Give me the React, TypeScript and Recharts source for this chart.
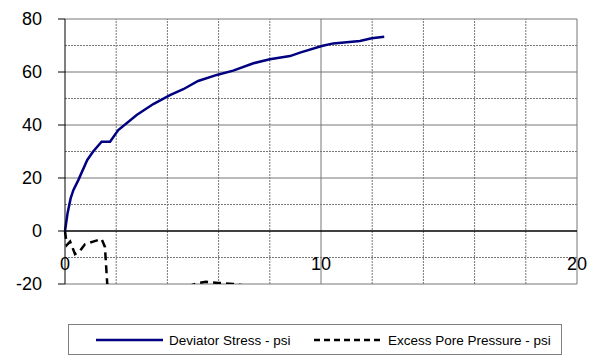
import { LineChart, Line, XAxis, YAxis, ReferenceLine } from 'recharts';

// deviator stress curve (axial strain %, psi)
const strainStress = [0, 0.1, 0.22, 0.33, 0.52, 0.87, 1.1, 1.43, 1.76, 2.08, 2.8, 3.45, 4.1, 4.62, 5.2, 5.93, 6.57, 7.36, 8.0, 8.79, 9.18, 10.03, 10.48, 11.52, 11.98, 12.47];
const deviatorStress = [0, 6.7, 12.3, 15.5, 19.2, 26.8, 30.0, 33.7, 33.7, 38.1, 43.8, 47.9, 51.3, 53.5, 56.6, 58.9, 60.5, 63.3, 64.8, 66.0, 67.3, 69.8, 70.8, 71.7, 72.7, 73.3];

// excess pore pressure curve (mostly below the visible range after ~1.6%)
const strainPore = [0, 0.07, 0.2, 0.39, 0.59, 0.78, 1.1, 1.43, 1.56, 1.65, 1.9, 3.0, 4.2, 4.75, 5.27, 5.5, 6.0, 6.57, 7.35, 8.0, 9.0];
const porePressure = [0, -5.3, -4.0, -8.7, -7.4, -5.0, -4.0, -3.0, -6.0, -20.0, -32, -36, -28, -21.0, -19.5, -19.2, -19.6, -20.0, -21.0, -26, -31];

const yTicks = [-20, 0, 20, 40, 60, 80];
const xTicks = [0, 10, 20];
const majorY = [-20, 20, 40, 60, 80];
const minorY = [-10, 10, 30, 50, 70];
const majorX = [10, 20];
const minorX = [2, 4, 6, 8, 12, 14, 16, 18];

const stressData = strainStress.map((x, i) => ({ x, y: deviatorStress[i] }));
const poreData = strainPore.map((x, i) => ({ x, y: porePressure[i] }));

const FONT = 'Arial, "Liberation Sans", sans-serif';

const XTick = (props: any) => {
    const { x, y, payload } = props;
    return (
        <text x={x} y={y - 22} textAnchor="middle" fontSize={18} fontFamily={FONT} fill="#000">
            {payload.value}
        </text>
    );
};

export default function App() {
    return (
        <div style={{ position: 'absolute', left: 0, top: 0, width: 597, height: 358, background: '#fff' }}>
            <LineChart width={597} height={358} margin={{ top: 19, right: 20, bottom: 44, left: 0 }}>
                <XAxis
                    type="number"
                    dataKey="x"
                    domain={[0, 20]}
                    ticks={xTicks}
                    axisLine={false}
                    tickLine={false}
                    height={30}
                    tick={<XTick />}
                />
                <YAxis
                    type="number"
                    dataKey="y"
                    domain={[-20, 80]}
                    ticks={yTicks}
                    allowDataOverflow
                    width={65}
                    tickSize={7}
                    tickMargin={16}
                    axisLine={{ stroke: '#000', strokeWidth: 1 }}
                    tickLine={{ stroke: '#000' }}
                    tick={{ fontSize: 18, fontFamily: FONT, fill: '#000' }}
                />
                {minorY.map((v) => (
                    <ReferenceLine key={`my${v}`} y={v} stroke="#777" strokeDasharray="2 1" />
                ))}
                {minorX.map((v) => (
                    <ReferenceLine key={`mx${v}`} x={v} stroke="#777" strokeDasharray="2 1" />
                ))}
                {majorY.map((v) => (
                    <ReferenceLine key={`My${v}`} y={v} stroke="#777" />
                ))}
                {majorX.map((v) => (
                    <ReferenceLine key={`Mx${v}`} x={v} stroke="#777" />
                ))}
                <ReferenceLine y={0} stroke="#000" strokeWidth={1.5} />
                <Line
                    data={poreData}
                    dataKey="y"
                    type="linear"
                    stroke="#000"
                    strokeWidth={2.5}
                    strokeDasharray="8 5"
                    dot={false}
                    isAnimationActive={false}
                />
                <Line
                    data={stressData}
                    dataKey="y"
                    type="linear"
                    stroke="#000080"
                    strokeWidth={2.5}
                    dot={false}
                    isAnimationActive={false}
                />
            </LineChart>
            <div
                style={{
                    position: 'absolute',
                    left: 68,
                    top: 324,
                    width: 494,
                    height: 31,
                    boxSizing: 'border-box',
                    border: '1px solid #808080',
                }}
            >
                <svg width={492} height={29} style={{ position: 'absolute', left: 0, top: 0 }}>
                    <line x1={27} x2={94} y1={15} y2={15} stroke="#000080" strokeWidth={2.5} />
                    <text x={100} y={19.5} fontSize={13.5} fontFamily={FONT} fill="#000">Deviator Stress - psi</text>
                    <line x1={245} x2={312} y1={15} y2={15} stroke="#000" strokeWidth={2.5} strokeDasharray="6 4" />
                    <text x={319} y={19.5} fontSize={13.5} fontFamily={FONT} fill="#000">Excess Pore Pressure - psi</text>
                </svg>
            </div>
        </div>
    );
}
